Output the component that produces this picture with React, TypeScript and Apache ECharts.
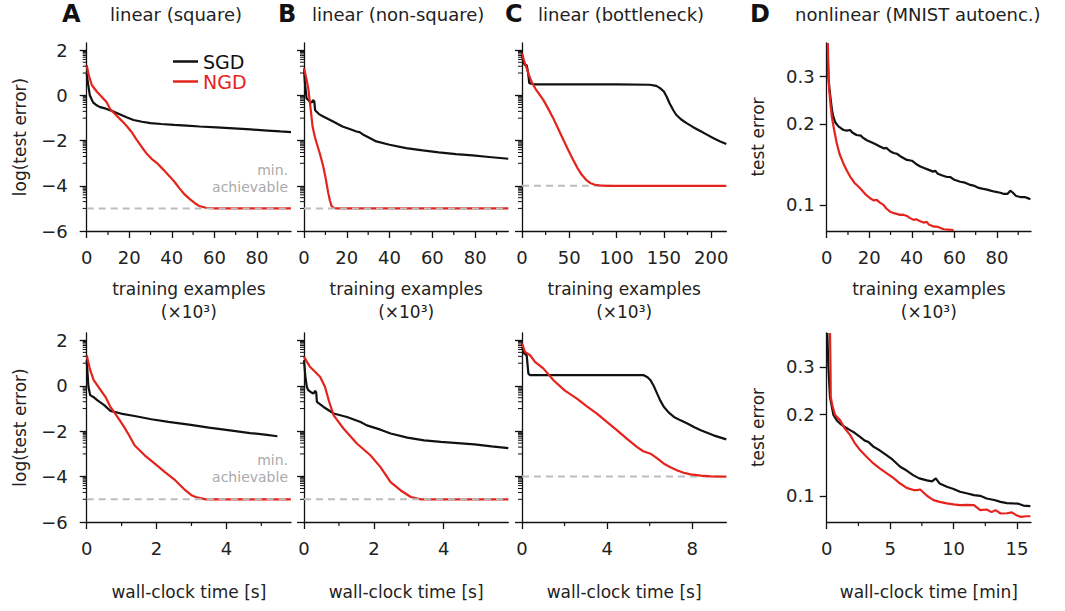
import React, { useEffect, useRef } from 'react';
import * as echarts from 'echarts';

const FONT = 'DejaVu Sans';
const BLACK = '#111111';
const RED = '#e5231c';
const GRAY = '#bdbdbd';
const TEXT = '#222222';

// ---------- data ----------
// Row 1: x = training examples (x10^3); Row 2: x = wall-clock time
const aTopSgd = [[0,1.0],[0.5,0.6],[1.5,0.0],[3,-0.3],[4.5,-0.42],[6,-0.5],[9,-0.58],[12.5,-0.7],[16,-0.85],[19,-0.97],[22,-1.08],[26,-1.16],[30,-1.22],[35,-1.26],[41,-1.3],[47,-1.33],[53,-1.37],[61,-1.41],[69,-1.45],[77,-1.5],[85,-1.55],[91,-1.59],[96,-1.62]];
const aTopNgd = [[0,1.35],[1,0.9],[2.4,0.47],[4.7,0.18],[7,-0.05],[9.4,-0.3],[11,-0.6],[14,-0.88],[16.5,-1.12],[18.8,-1.35],[21,-1.6],[23.5,-1.96],[26,-2.3],[28,-2.55],[30.5,-2.8],[33,-2.99],[36,-3.28],[39,-3.58],[41.5,-3.85],[43.5,-4.1],[46,-4.38],[48.6,-4.6],[51,-4.78],[53,-4.9],[56,-4.97],[59.6,-5.0],[96,-5.0]];
const bTopSgd = [[0,1.2],[0.4,0.6],[1.2,-0.12],[2.8,-0.27],[3.8,-0.3],[4.2,-0.2],[4.8,-0.25],[5.2,-0.65],[7,-0.82],[9,-0.93],[13.6,-1.15],[18,-1.37],[22,-1.5],[24.5,-1.59],[26,-1.62],[28,-1.75],[30.7,-1.88],[33.8,-2.03],[40,-2.18],[47.7,-2.33],[55.5,-2.43],[63,-2.52],[71,-2.59],[78.8,-2.65],[86.5,-2.72],[95.5,-2.8]];
const bTopNgd = [[0,1.2],[1,0.8],[2,0.32],[3,-0.5],[4,-1.37],[5,-1.8],[5.9,-2.1],[7.5,-2.6],[9,-3.14],[10.2,-3.7],[11.3,-4.3],[12.1,-4.65],[12.9,-4.9],[14,-4.98],[15.2,-5],[95.5,-5]];
const cTopSgd = [[0,1.8],[1.5,1.5],[3,1.35],[5,1.35],[6.5,1.0],[7.7,0.55],[12,0.5],[60,0.5],[100,0.5],[135,0.48],[142,0.43],[146,0.33],[150,0.18],[153,-0.05],[156,-0.34],[160,-0.65],[163,-0.85],[168,-1.05],[174,-1.22],[181,-1.4],[188,-1.56],[195,-1.72],[202,-1.88],[209,-2.02],[216,-2.15]];
const cTopNgd = [[0,1.87],[2.5,1.5],[5,1.2],[7.5,0.9],[10,0.62],[15,0.25],[22.5,-0.19],[28,-0.6],[33,-1.0],[38,-1.45],[43.7,-1.96],[49,-2.42],[54,-2.84],[58.5,-3.2],[63,-3.5],[67.5,-3.72],[72,-3.87],[77,-3.95],[82,-3.98],[90,-4.0],[216,-4.0]];
// panel D: raw test error (plotted on a log scale)
const dTopSgd = [[0.3,0.40],[0.8,0.30],[1.3,0.27],[1.9,0.246],[2.5,0.225],[3.1,0.213],[4,0.203],[5.5,0.196],[7,0.192],[8,0.19],[9.4,0.189],[11,0.19],[12,0.186],[14,0.182],[16,0.181],[17,0.178],[18.8,0.174],[21,0.171],[23,0.168],[25,0.165],[27,0.162],[28,0.163],[30,0.158],[31.4,0.156],[33,0.155],[35,0.151],[37.7,0.147],[40,0.146],[42,0.142],[44,0.139],[46,0.137],[48,0.135],[50,0.133],[51,0.134],[52,0.131],[54,0.129],[56.5,0.127],[58,0.127],[60,0.124],[62.8,0.122],[65,0.121],[67,0.119],[69,0.118],[71,0.116],[73,0.115],[75.4,0.114],[77,0.113],[79,0.112],[81.6,0.111],[83,0.110],[85,0.110],[86.3,0.113],[87.5,0.111],[89,0.108],[91,0.107],[93,0.107],[94.5,0.106],[95.7,0.105]];
const dTopNgd = [[0.5,0.40],[0.8,0.32],[1,0.283],[1.6,0.245],[2.4,0.213],[3.5,0.19],[4.7,0.17],[6,0.155],[7.8,0.143],[9.5,0.134],[11,0.1275],[13,0.121],[15.7,0.1153],[18,0.11],[20.4,0.1059],[22,0.104],[23.5,0.1044],[25,0.102],[26.7,0.1],[28,0.097],[29.8,0.0944],[32,0.093],[34.5,0.0918],[36,0.092],[37.7,0.091],[39,0.0895],[40.8,0.088],[42,0.0885],[44,0.087],[45.5,0.086],[47,0.0865],[48,0.0845],[50.2,0.0831],[52,0.083],[55,0.0812],[57,0.081],[59.6,0.0807]];

const aBotSgd = [[0,1.13],[0.05,-0.04],[0.1,-0.41],[0.2,-0.5],[0.3,-0.63],[0.5,-0.85],[0.68,-1.1],[0.98,-1.22],[1.37,-1.33],[1.85,-1.47],[2.34,-1.59],[2.93,-1.71],[3.5,-1.84],[4.1,-1.96],[4.68,-2.08],[5.1,-2.15],[5.46,-2.22]];
const aBotNgd = [[0,1.35],[0.1,0.69],[0.2,0.25],[0.4,-0.19],[0.55,-0.52],[0.68,-0.93],[0.88,-1.37],[1.07,-1.81],[1.22,-2.2],[1.37,-2.62],[1.66,-3.06],[1.95,-3.43],[2.24,-3.8],[2.54,-4.17],[2.83,-4.61],[3.0,-4.82],[3.12,-4.9],[3.41,-5],[5.85,-5]];
const bBotSgd = [[0,1.13],[0.04,0.4],[0.08,-0.04],[0.12,-0.19],[0.2,-0.28],[0.27,-0.34],[0.32,-0.22],[0.35,-0.3],[0.37,-0.71],[0.56,-0.93],[0.85,-1.22],[1.23,-1.37],[1.62,-1.59],[1.8,-1.74],[2.19,-1.93],[2.48,-2.1],[2.96,-2.28],[3.44,-2.4],[3.92,-2.47],[4.4,-2.52],[4.88,-2.58],[5.37,-2.67],[5.85,-2.74]];
const bBotNgd = [[0,1.28],[0.17,0.84],[0.46,0.4],[0.6,-0.04],[0.72,-0.7],[0.85,-1.3],[1.13,-1.88],[1.52,-2.55],[1.9,-3.06],[2.19,-3.58],[2.48,-4.24],[2.77,-4.61],[3.06,-4.9],[3.35,-5],[5.85,-5]];
const cBotSgd = [[0,1.72],[0.1,1.43],[0.22,1.35],[0.3,0.54],[0.38,0.47],[3,0.47],[5.72,0.47],[5.9,0.38],[6.04,0.25],[6.2,-0.02],[6.35,-0.34],[6.5,-0.65],[6.67,-0.93],[6.9,-1.18],[7.14,-1.37],[7.45,-1.52],[7.77,-1.66],[8.1,-1.82],[8.4,-1.96],[8.7,-2.07],[9.0,-2.18],[9.3,-2.27],[9.6,-2.36]];
const cBotNgd = [[0,1.87],[0.14,1.5],[0.38,1.35],[0.61,1.06],[1.0,0.77],[1.48,0.25],[2.0,-0.2],[2.58,-0.56],[3.05,-0.9],[3.52,-1.22],[4.0,-1.6],[4.47,-1.96],[4.95,-2.35],[5.41,-2.7],[5.7,-2.88],[6.04,-2.99],[6.35,-3.2],[6.67,-3.43],[7.0,-3.6],[7.3,-3.73],[7.6,-3.83],[7.92,-3.9],[8.4,-3.96],[8.87,-3.99],[9.6,-4]];
const dBotSgd = [[0.05,0.40],[0.13,0.30],[0.26,0.232],[0.53,0.199],[0.8,0.19],[1.05,0.185],[1.4,0.18],[1.84,0.175],[2.2,0.171],[2.63,0.165],[3.0,0.16],[3.3,0.158],[3.68,0.152],[4.2,0.147],[4.74,0.141],[5.2,0.136],[5.79,0.128],[6.3,0.124],[6.84,0.119],[7.3,0.116],[7.9,0.114],[8.3,0.113],[8.6,0.116],[8.9,0.111],[9.47,0.108],[10,0.106],[10.5,0.1035],[11.1,0.102],[11.6,0.1006],[12.1,0.1],[12.6,0.0977],[13.2,0.0965],[13.7,0.095],[14.2,0.094],[14.7,0.0937],[15.1,0.0935],[15.5,0.092],[16.05,0.0916]];
const dBotNgd = [[0.26,0.40],[0.3,0.3],[0.32,0.232],[0.45,0.215],[0.66,0.199],[1.05,0.1905],[1.4,0.178],[1.84,0.168],[2.2,0.157],[2.63,0.1476],[3.1,0.14],[3.68,0.1317],[4.2,0.126],[4.74,0.121],[5.3,0.116],[5.79,0.111],[6.3,0.107],[6.84,0.105],[7.1,0.105],[7.37,0.1055],[7.9,0.1],[8.42,0.0964],[8.9,0.095],[9.47,0.0937],[10,0.093],[10.5,0.0924],[11,0.0925],[11.6,0.0924],[12.1,0.0885],[12.6,0.089],[13.0,0.087],[13.3,0.0885],[13.7,0.086],[14.2,0.0862],[14.6,0.0868],[15.0,0.0845],[15.3,0.0836],[15.7,0.084],[16.05,0.084]];

// minimum achievable error (dashed grey)
const minAchievableATop = [[0,-5],[96,-5]];
const minAchievableBTop = [[0,-5],[95.5,-5]];
const minAchievableCTop = [[0,-4],[100,-4]];
const minAchievableABot = [[0,-5],[5.85,-5]];
const minAchievableBBot = [[0,-5],[5.85,-5]];
const minAchievableCBot = [[0,-4],[9.6,-4]];

// ticks
const yMajorTicks = [-6, -4, -2, 0, 2];
const yLogLabels = [0.1, 0.2, 0.3];
const xLabelsTrain = [0, 20, 40, 60, 80];
const xMinorTrain = [10, 30, 50, 70, 90];
const xLabelsBottle = [0, 50, 100, 150, 200];
const xMinorBottle = [25, 75, 125, 175];
const xLabelsSec = [0, 2, 4];
const xMinorSec = [1, 3, 5];
const xLabelsSecC = [0, 4, 8];
const xMinorSecC = [2, 6];
const xLabelsMin = [0, 5, 10, 15];
const xMinorMin = [2.5, 7.5, 12.5];

const titles = ['linear (square)', 'linear (non-square)', 'linear (bottleneck)', 'nonlinear (MNIST autoenc.)'];
const letters = ['A', 'B', 'C', 'D'];

// ---------- layout ----------
const gridLefts = [86.7, 304, 522, 826.7];
const gridTops = [43, 333];
const gridW = 204.3;
const gridHs = [188, 189];

type Panel = {
  row: number; col: number; xMax: number;
  xLabels: number[]; xMinor: number[];
  sgd: number[][]; ngd: number[][];
  floor?: number[][]; floorOnTop?: boolean;
  log: boolean; xName: string;
};

const trainName = 'training examples\n(×10³)';
const panels: Panel[] = [
  { row: 0, col: 0, xMax: 96, xLabels: xLabelsTrain, xMinor: xMinorTrain, sgd: aTopSgd, ngd: aTopNgd, floor: minAchievableATop, floorOnTop: true, log: false, xName: trainName },
  { row: 0, col: 1, xMax: 95.5, xLabels: xLabelsTrain, xMinor: xMinorTrain, sgd: bTopSgd, ngd: bTopNgd, floor: minAchievableBTop, floorOnTop: true, log: false, xName: trainName },
  { row: 0, col: 2, xMax: 216, xLabels: xLabelsBottle, xMinor: xMinorBottle, sgd: cTopSgd, ngd: cTopNgd, floor: minAchievableCTop, floorOnTop: false, log: false, xName: trainName },
  { row: 0, col: 3, xMax: 96, xLabels: xLabelsTrain, xMinor: xMinorTrain, sgd: dTopSgd, ngd: dTopNgd, log: true, xName: trainName },
  { row: 1, col: 0, xMax: 5.85, xLabels: xLabelsSec, xMinor: xMinorSec, sgd: aBotSgd, ngd: aBotNgd, floor: minAchievableABot, floorOnTop: true, log: false, xName: 'wall-clock time [s]' },
  { row: 1, col: 1, xMax: 5.85, xLabels: xLabelsSec, xMinor: xMinorSec, sgd: bBotSgd, ngd: bBotNgd, floor: minAchievableBBot, floorOnTop: true, log: false, xName: 'wall-clock time [s]' },
  { row: 1, col: 2, xMax: 9.6, xLabels: xLabelsSecC, xMinor: xMinorSecC, sgd: cBotSgd, ngd: cBotNgd, floor: minAchievableCBot, floorOnTop: false, log: false, xName: 'wall-clock time [s]' },
  { row: 1, col: 3, xMax: 16.1, xLabels: xLabelsMin, xMinor: xMinorMin, sgd: dBotSgd, ngd: dBotNgd, log: true, xName: 'wall-clock time [min]' },
];

const fmtNum = (v: number) => (v < 0 ? '\u2212' + String(Math.abs(v)) : String(v));
const log10 = (v: number) => Math.log10(v);
// log-style minor ticks in the decade below each major tick
const yMinorTicks: number[] = [];
yMajorTicks.forEach((m) => {
  if (m <= -6) return;
  for (let k = 1; k <= 9; k++) yMinorTicks.push(m - 1 + Math.log10(k));
});

function buildOption() {
  const grid: any[] = [];
  const xAxis: any[] = [];
  const yAxis: any[] = [];
  const series: any[] = [];
  const axisLine = { show: true, onZero: false, lineStyle: { color: BLACK, width: 1.3 } };
  const labelStyle = { color: TEXT, fontSize: 18, fontFamily: FONT };

  panels.forEach((p, i) => {
    const yMin = p.log ? log10(0.08) : -6;
    const yMax = p.log ? log10(0.4) : 2.33;
    grid.push({ left: gridLefts[p.col], top: gridTops[p.row], width: gridW, height: gridHs[p.row], containLabel: false });
    xAxis.push({
      type: 'value', gridIndex: i, min: 0, max: p.xMax, position: 'bottom',
      axisLine, splitLine: { show: false },
      axisTick: { show: true, length: 7, customValues: p.xLabels, lineStyle: { color: BLACK, width: 1.3 } },
      axisLabel: { show: true, customValues: p.xLabels, margin: 17, ...labelStyle, formatter: (v: number) => fmtNum(v) },
      name: p.xName, nameLocation: 'middle', nameGap: p.row === 0 ? 46 : 58,
      nameTextStyle: { color: TEXT, fontSize: 17, fontFamily: FONT, lineHeight: 23, verticalAlign: 'top' },
    });
    if (!p.log) {
      yAxis.push({
        type: 'value', gridIndex: i, min: yMin, max: yMax, position: 'left',
        axisLine, splitLine: { show: false },
        axisTick: { show: true, length: 7, customValues: yMajorTicks, lineStyle: { color: BLACK, width: 1.3 } },
        axisLabel: { show: p.col === 0, customValues: yMajorTicks, margin: 19, ...labelStyle, formatter: (v: number) => fmtNum(v) },
        name: p.col === 0 ? 'log(test error)' : '', nameLocation: 'middle', nameGap: 58, nameRotate: 90,
        nameTextStyle: { color: TEXT, fontSize: 17, fontFamily: FONT },
      });
    } else {
      const yl = yLogLabels.map(log10);
      yAxis.push({
        type: 'value', gridIndex: i, min: yMin, max: yMax, position: 'left',
        axisLine, splitLine: { show: false },
        axisTick: { show: true, length: 7, customValues: yl, lineStyle: { color: BLACK, width: 1.3 } },
        axisLabel: { show: true, customValues: yl, margin: 12, ...labelStyle, formatter: (v: number) => Math.pow(10, v).toFixed(1) },
        name: 'test error', nameLocation: 'middle', nameGap: 60, nameRotate: 90,
        nameTextStyle: { color: TEXT, fontSize: 17, fontFamily: FONT },
      });
    }
    const xi = i;
    const yi = i;
    // minor x ticks (short, below the axis), placed through the axis scale
    series.push({
      type: 'custom', xAxisIndex: xi, yAxisIndex: yi, silent: true, clip: false, z: 5,
      data: p.xMinor.map((v) => [v, yMin]),
      renderItem: (_params: any, api: any) => {
        const pt = api.coord([api.value(0), api.value(1)]);
        return { type: 'line', shape: { x1: pt[0], y1: pt[1], x2: pt[0], y2: pt[1] + 4 }, style: { stroke: BLACK, lineWidth: 1.2 } };
      },
    });
    if (!p.log) {
      // minor y ticks (log-style), left of the axis
      series.push({
        type: 'custom', xAxisIndex: xi, yAxisIndex: yi, silent: true, clip: false, z: 5,
        data: yMinorTicks.map((v) => [0, v]),
        renderItem: (_params: any, api: any) => {
          const pt = api.coord([api.value(0), api.value(1)]);
          return { type: 'line', shape: { x1: pt[0] - 4, y1: pt[1], x2: pt[0], y2: pt[1] }, style: { stroke: BLACK, lineWidth: 1 } };
        },
      });
    }
    const tf = (d: number[][]) => (p.log ? d.map(([x, v]) => [x, log10(v)]) : d);
    const floorSeries = p.floor
      ? {
          type: 'line', name: 'min', xAxisIndex: xi, yAxisIndex: yi, data: p.floor,
          symbol: 'none', silent: true, lineStyle: { color: GRAY, width: 2, type: [7, 5] }, color: GRAY,
        }
      : null;
    if (floorSeries && !p.floorOnTop) series.push(floorSeries);
    series.push({
      type: 'line', name: 'SGD', xAxisIndex: xi, yAxisIndex: yi, data: tf(p.sgd),
      symbol: 'none', color: BLACK, lineStyle: { color: BLACK, width: 2.2 },
    });
    series.push({
      type: 'line', name: 'NGD', xAxisIndex: xi, yAxisIndex: yi, data: tf(p.ngd),
      symbol: 'none', color: RED, lineStyle: { color: RED, width: 2.2 },
    });
    if (floorSeries && p.floorOnTop) series.push(floorSeries);
  });

  const letterX = [62, 278, 505, 750];
  const titleX = [110, 312, 538, 795];
  const graphic: any[] = [];
  letters.forEach((l, i) => {
    graphic.push({ type: 'text', x: letterX[i], y: 14, style: { text: l, fontSize: 24, fontWeight: 'bold', fontFamily: FONT, fill: '#111', verticalAlign: 'middle' } });
    graphic.push({ type: 'text', x: titleX[i], y: 14, style: { text: titles[i], fontSize: 18, fontFamily: FONT, fill: TEXT, verticalAlign: 'middle' } });
  });
  [[170, 187], [460, 477]].forEach(([y1, y2]) => {
    graphic.push({ type: 'text', x: 288, y: y1, style: { text: 'min.', fontSize: 14, fontFamily: FONT, fill: '#aaaaaa', align: 'right', verticalAlign: 'middle' } });
    graphic.push({ type: 'text', x: 288, y: y2, style: { text: 'achievable', fontSize: 14, fontFamily: FONT, fill: '#aaaaaa', align: 'right', verticalAlign: 'middle' } });
  });

  return {
    animation: false,
    backgroundColor: '#ffffff',
    textStyle: { fontFamily: FONT },
    grid, xAxis, yAxis, series, graphic,
    legend: {
      orient: 'vertical', left: 168, top: 47, itemWidth: 25, itemHeight: 2.5, itemGap: 1, icon: 'rect',
      textStyle: { fontSize: 19, fontFamily: FONT, lineHeight: 19 },
      data: [
        { name: 'SGD', textStyle: { color: '#111' } },
        { name: 'NGD', textStyle: { color: RED } },
      ],
    },
  };
}

export default function App() {
  const ref = useRef<HTMLDivElement>(null);
  useEffect(() => {
    if (!ref.current) return;
    const chart = echarts.init(ref.current, undefined, { renderer: 'svg' });
    chart.setOption(buildOption() as any);
    return () => chart.dispose();
  }, []);
  return <div ref={ref} style={{ position: 'fixed', left: 0, top: 0, width: 1065, height: 611, background: '#fff' }} />;
}
